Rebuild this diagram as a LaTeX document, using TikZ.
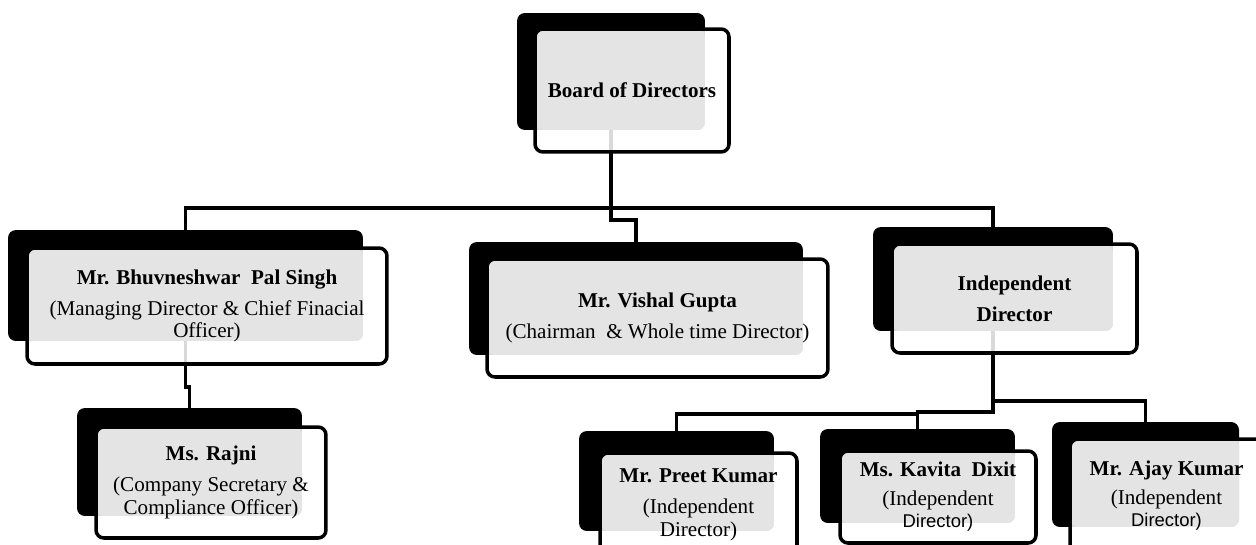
\documentclass[tikz,border=0pt]{standalone}
\usepackage{fontspec}
\setmainfont{Liberation Serif}
\newfontfamily\arialfont{Liberation Sans}
\usetikzlibrary{backgrounds}
\definecolor{boxgrey}{HTML}{E4E4E4}
\tikzset{
  backbox/.style={fill=black, rounded corners=4.5pt, inner sep=0pt, outer sep=0pt},
  frontbox/.style={draw=black, line width=2pt, fill=white, fill opacity=0.85, text opacity=1,
    rounded corners=4.5pt, inner sep=0pt, outer sep=0pt, align=center,
    font=\fontsize{12}{13}\selectfont,
    path picture={\fill[boxgrey, fill opacity=1, rounded corners=4.5pt]
      (path picture bounding box.north west) rectangle (#1.south east);}},
  link/.style={line width=2pt}
}

\begin{document}
\begin{tikzpicture}[x=0.02cm, y=-0.02cm]
\useasboundingbox (0,0) rectangle (1256,544);

% board
\node[backbox, minimum width=3.76cm, minimum height=2.34cm] (bodback) at (611,71.5) {};
\node[frontbox=bodback, minimum width=3.88cm, minimum height=2.46cm] (bod) at (632,90.5) {\textbf{Board of Directors}};

% directors
\node[backbox, minimum width=7.10cm, minimum height=2.22cm] (bpsback) at (185.5,285.5) {};
\node[frontbox=bpsback, minimum width=7.20cm, minimum height=2.32cm] (bps) at (207,306)
  {\textbf{Mr. Bhuvneshwar\ \ Pal Singh}\\[4.6pt](Managing Director \& Chief Finacial\\Officer)};
\node[backbox, minimum width=6.68cm, minimum height=2.26cm] (vgback) at (636,298.5) {};
\node[frontbox=vgback, minimum width=6.82cm, minimum height=2.36cm] (vg) at (657.5,318)
  {\textbf{Mr. Vishal Gupta}\\[4.6pt](Chairman\ \ \& Whole time Director)};
\node[backbox, minimum width=4.80cm, minimum height=2.08cm] (indback) at (993,279) {};
\node[frontbox=indback, minimum width=4.90cm, minimum height=2.18cm] (ind) at (1014.5,298.5)
  {\textbf{Independent}\\[4.6pt]\textbf{Director}};

% secretary
\node[backbox, minimum width=4.50cm, minimum height=2.16cm] (rajniback) at (189.5,462) {};
\node[frontbox=rajniback, minimum width=4.60cm, minimum height=2.22cm] (rajni) at (211,482.5)
  {\textbf{Ms. Rajni}\\[4.6pt](Company Secretary \&\\Compliance Officer)};

% independent directors
\node[backbox, minimum width=3.90cm, minimum height=2.00cm] (preetback) at (676.5,481) {};
\node[frontbox=preetback, minimum width=3.94cm, minimum height=2.06cm] (preet) at (698.5,504.5)
  {\textbf{Mr. Preet Kumar}\\[4.6pt](Independent\\Director)};
\node[backbox, minimum width=3.90cm, minimum height=1.88cm] (kavback) at (917.5,476) {};
\node[frontbox=kavback, minimum width=3.92cm, minimum height=1.84cm] (kav) at (938,497)
  {\textbf{Ms. Kavita\ \ Dixit}\\[3pt](Independent\\{\arialfont\fontsize{10.5}{12}\selectfont Director)}};
\node[backbox, minimum width=3.74cm, minimum height=2.10cm] (ajayback) at (1145.5,474.5) {};
\node[frontbox=ajayback, minimum width=3.86cm, minimum height=2.28cm] (ajay) at (1166.5,496)
  {\textbf{Mr. Ajay\ Kumar}\\[3pt](Independent\\{\arialfont\fontsize{10.5}{12}\selectfont Director)}};

% connectors
\begin{scope}[on background layer]
\draw[link] (bodback.center) |- (bpsback.north |- 0,208) -- (bpsback.north);
\draw[link] (bodback.center) |- (indback.north |- 0,208) -- (indback.north);
\draw[link] (bodback.center) |- (vgback.north |- 0,220) -- (vgback.north);
\draw[link] (bpsback.center) |- (rajniback.north |- 0,387) -- (rajniback.north);
\draw[link] (indback.center) |- (kavback.north |- 0,412) -- (kavback.north);
\draw[link] (kavback.north |- 0,414) -| (preetback.north);
\draw[link] (indback.center |- 0,401) -| (ajayback.north);
\end{scope}
\end{tikzpicture}
\end{document}
